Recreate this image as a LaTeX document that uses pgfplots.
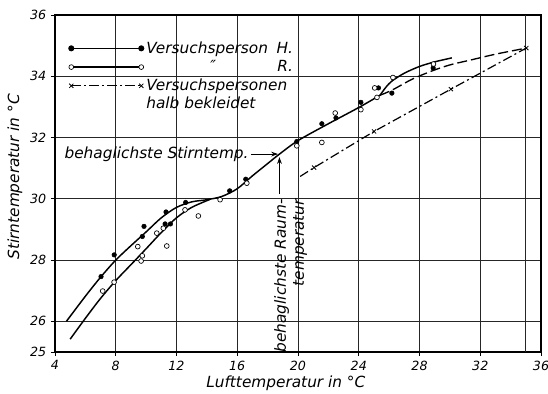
\documentclass[border=0pt]{standalone}
\usepackage{fontspec}
\setmainfont{DejaVu Sans}
\usepackage{pgfplots}
\pgfplotsset{compat=1.18}
\usetikzlibrary{arrows.meta}
\newcommand{\lbl}{\fontsize{11.5}{13.5}\selectfont\itshape}
\newcommand{\tkl}{\fontsize{9.5}{11}\selectfont\itshape}
\begin{document}
\begin{tikzpicture}
\begin{axis}[
  scale only axis, width=364.5pt, height=252.75pt,
  xmin=4, xmax=36, ymin=25, ymax=36,
  xtick={4,8,...,36}, ytick={25,26,28,30,32,34,36},
  xticklabels={4,8,12,16,20,24,28,32,36},
  yticklabels={25,26,28,30,32,34,36},
  extra x ticks={35}, extra x tick labels={},
  extra x tick style={grid=major, major tick length=0pt},
  grid=major, grid style={black!85, line width=0.5pt},
  axis line style={line width=0.8pt},
  tick align=outside, major tick length=3pt, tick style={black, line width=0.5pt},
  xtick pos=bottom, ytick pos=left,
  tick label style={font=\tkl},
  xlabel={Lufttemperatur in °C}, ylabel={Stirntemperatur in °C},
  every axis x label/.style={at={(axis description cs:0.475,-0.092)},anchor=center,font=\lbl},
  every axis y label/.style={at={(axis description cs:-0.0823,0.52)},rotate=90,anchor=center,font=\lbl},
  legend style={at={(axis description cs:0.028,0.93)}, anchor=north west, draw=none, fill=none,
     inner sep=0pt, font=\lbl, legend cell align=left},
  legend image code/.code={\draw[#1] plot coordinates {(0pt,0pt) (52.5pt,0pt)};},
  clip=false,
]
% Versuchsperson H. (solid)
\addplot[black, line width=1.1pt, smooth, forget plot] coordinates {
(4.75,26.0) (6,26.82) (7,27.44) (8,28.0) (9,28.47) (10,28.92) (11,29.38) (12,29.72)
(13,29.9) (14,29.97) (15,30.08) (16,30.33) (17,30.75) (18,31.15) (18.78,31.46)
(20,31.9) (22,32.45) (24,32.98) (25.4,33.38)};
% Versuchsperson R. (lower branch)
\addplot[black, line width=1.1pt, smooth, forget plot] coordinates {
(5,25.42) (6,26.1) (7,26.75) (8,27.33) (9,27.85) (10,28.37) (11,28.9) (12,29.38)
(13,29.72) (14.2,29.98)};
% R. upper branch
\addplot[black, line width=1.1pt, smooth, forget plot] coordinates {
(25.4,33.38) (25.8,33.65) (26.2,33.85) (27,34.1) (28,34.32) (29,34.47) (30.13,34.6)};
% H. extrapolated (dashed)
\addplot[black, line width=1.0pt, smooth, dash pattern=on 7.5pt off 3pt, forget plot] coordinates {
(25.4,33.38) (26.2,33.55) (27.5,33.9) (28.8,34.17) (30,34.37) (31.45,34.54) (33,34.72) (35.03,34.92)};
% halb bekleidet (dash-dot)
\addplot[black, line width=0.9pt, dash pattern=on 7pt off 2.5pt on 1.5pt off 2.5pt,
  mark=x, mark indices={2,3,4,5}, mark size=2.2pt, mark options={solid, line width=0.6pt}, forget plot] coordinates {
(20.14,30.73) (21.06,31.02) (25.01,32.2) (30.07,33.58) (35.03,34.92)};
% points H.
\addplot[only marks, mark=*, mark size=1.7pt, black, forget plot] coordinates {
(7.03,27.46) (7.9,28.17) (9.75,28.77) (9.86,29.1) (11.25,29.18) (11.6,29.18) (11.31,29.57)
(12.6,29.88) (15.5,30.26) (16.56,30.64) (19.92,31.87) (21.57,32.45) (22.5,32.64)
(24.14,33.15) (25.3,33.62) (26.18,33.45) (28.9,34.27)};
% points R.
\addplot[only marks, mark=*, mark size=1.8pt, mark options={fill=white, draw=black, line width=0.5pt}, forget plot] coordinates {
(7.14,26.99) (7.89,27.28) (9.45,28.44) (9.75,28.14) (9.67,27.97) (10.7,28.88) (11.13,29.04)
(11.36,28.46) (12.56,29.64) (13.44,29.44) (14.87,29.97) (16.63,30.51) (19.92,31.73)
(21.57,31.84) (22.45,32.8) (24.14,32.91) (25.05,33.62) (25.2,33.31) (26.25,33.96) (28.92,34.4)};
\addlegendimage{black, line width=1.1pt, mark=*, mark size=1.7pt}
\addlegendentry{\makebox[110pt][l]{Versuchsperson\hfill H.}}
\addlegendimage{black, line width=1.1pt, mark=*, mark size=1.8pt, mark options={fill=white, line width=0.5pt}}
\addlegendentry{\makebox[110pt][l]{\hspace*{48pt}″\hfill R.}}
\addlegendimage{black, line width=0.9pt, dash pattern=on 7pt off 2.5pt on 1.5pt off 2.5pt, mark=x, mark size=2.2pt, mark options={solid, line width=0.6pt}}
\addlegendentry{\parbox[t]{115pt}{Versuchspersonen\\halb bekleidet}}
% annotations
\node[anchor=east, font=\lbl, inner sep=1pt] at (axis cs:16.85,31.46) {behaglichste Stirntemp.};
\draw[-{Stealth[length=5pt,width=3.5pt]}, line width=0.6pt] (axis cs:16.9,31.46) -- (axis cs:18.68,31.46);
\draw[-{Stealth[length=5pt,width=3.5pt]}, line width=0.6pt] (axis cs:18.78,30.15) -- (axis cs:18.78,31.36);
\node[rotate=90, anchor=east, align=right, font=\lbl, inner sep=0pt] at (axis cs:19.51,30.0) {behaglichste Raum-\\temperatur};
\end{axis}
\pgfresetboundingbox
\path[use as bounding box] ([xshift=-41.25pt,yshift=-31.5pt]current axis.south west) rectangle ([xshift=5.25pt,yshift=11.25pt]current axis.north east);
\end{tikzpicture}
\end{document}
